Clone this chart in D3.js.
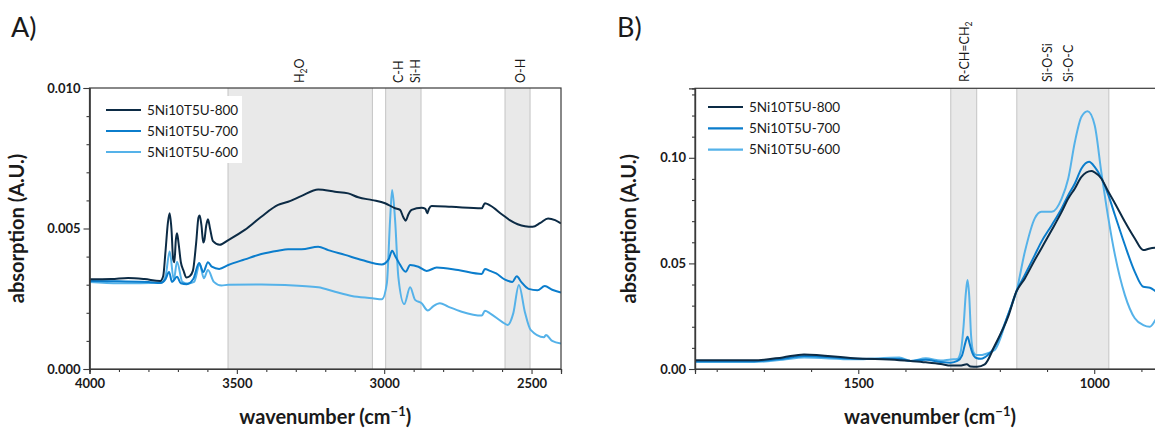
<!DOCTYPE html>
<html><head><meta charset="utf-8">
<script src="https://cdn.jsdelivr.net/npm/d3@7"></script>
<style>
body{margin:0;background:#fff;}
text{font-family:Lato,"Open Sans",sans-serif;fill:#1a1a1a;}
</style></head>
<body><svg id="c" width="1155" height="432"></svg>
<script>
// ---------- DATA ----------
const seriesNames = ["5Ni10T5U-800", "5Ni10T5U-700", "5Ni10T5U-600"];
const seriesColors = ["#0c2b45", "#0b7dcc", "#55b2e9"];

// Panel A (wavenumber, absorption)
const a800 = [[4000,0.00319],[3926,0.0032],[3869,0.00324],[3813,0.0032],[3760,0.00313],[3750,0.0033],[3742,0.0042],[3734,0.0052],[3728,0.00554],[3722,0.005],[3716,0.0039],[3712,0.0038],[3707,0.0046],[3703,0.00483],[3698,0.0045],[3690,0.0038],[3681,0.0035],[3671,0.00326],[3660,0.0033],[3649,0.0035],[3638,0.0045],[3630,0.0054],[3626,0.00546],[3620,0.0051],[3614,0.0045],[3610,0.0046],[3604,0.0051],[3598,0.00533],[3591,0.005],[3581,0.00455],[3558,0.00442],[3529,0.00459],[3473,0.00495],[3417,0.00542],[3360,0.00584],[3326,0.00595],[3280,0.00616],[3224,0.00639],[3167,0.00631],[3122,0.00625],[3088,0.00611],[3040,0.00601],[2997,0.0059],[2963,0.00572],[2946,0.00566],[2935,0.0054],[2927,0.00528],[2918,0.0055],[2907,0.00566],[2873,0.00574],[2860,0.0057],[2854,0.00554],[2848,0.0057],[2839,0.0058],[2771,0.00577],[2669,0.00572],[2658,0.0059],[2641,0.00582],[2600,0.0055],[2574,0.0053],[2522,0.00508],[2496,0.00506],[2470,0.0052],[2444,0.00536],[2420,0.0053],[2400,0.00518]];
const a700 = [[4000,0.00313],[3900,0.00312],[3800,0.0031],[3760,0.00306],[3742,0.0032],[3730,0.00345],[3720,0.0031],[3703,0.00328],[3690,0.00305],[3670,0.00302],[3648,0.0032],[3628,0.00377],[3614,0.00345],[3598,0.0038],[3585,0.00364],[3560,0.00356],[3529,0.0037],[3473,0.0039],[3417,0.00409],[3360,0.00421],[3326,0.00426],[3280,0.00426],[3224,0.00435],[3190,0.00423],[3133,0.00406],[3076,0.00388],[3008,0.00372],[2985,0.0039],[2973,0.00421],[2962,0.004],[2952,0.00382],[2927,0.00346],[2912,0.0037],[2884,0.00364],[2856,0.00349],[2822,0.00361],[2749,0.00352],[2669,0.00338],[2658,0.00356],[2641,0.00349],[2620,0.0034],[2590,0.00318],[2565,0.0031],[2550,0.0033],[2535,0.0031],[2510,0.00285],[2480,0.0028],[2455,0.00295],[2430,0.00282],[2400,0.00272]];
const a600 = [[4000,0.0031],[3900,0.00305],[3756,0.00307],[3742,0.0033],[3728,0.00418],[3714,0.00317],[3703,0.00382],[3685,0.0031],[3666,0.00304],[3645,0.0031],[3626,0.00374],[3612,0.00323],[3598,0.00352],[3578,0.0031],[3552,0.00297],[3529,0.003],[3417,0.00301],[3337,0.00299],[3224,0.00291],[3167,0.00275],[3110,0.0026],[3040,0.00252],[3008,0.00248],[2991,0.00305],[2980,0.0053],[2973,0.00637],[2963,0.0053],[2952,0.00328],[2932,0.00231],[2912,0.00291],[2895,0.00246],[2873,0.00234],[2852,0.00208],[2833,0.00224],[2811,0.00234],[2783,0.00222],[2737,0.00204],[2669,0.0019],[2658,0.00207],[2641,0.00198],[2600,0.00168],[2581,0.00157],[2562,0.00198],[2543,0.00299],[2522,0.002],[2503,0.00139],[2458,0.00113],[2451,0.00121],[2430,0.001],[2400,0.00091]];

// Panel B
const b800 = [[1846,0.0041],[1721,0.0041],[1660,0.0055],[1615,0.0069],[1509,0.0051],[1413,0.0042],[1389,0.0038],[1357,0.0032],[1325,0.0024],[1304,0.0016],[1285,0.0016],[1270,0.0022],[1262,0.0012],[1248,0.0011],[1232,0.0022],[1211,0.011],[1182,0.025],[1165,0.0366],[1147,0.0429],[1126,0.0516],[1112,0.0571],[1090,0.0658],[1069,0.0744],[1055,0.0807],[1041,0.0855],[1027,0.091],[1006,0.0937],[999,0.0931],[985,0.0902],[970,0.0839],[956,0.0784],[935,0.0697],[914,0.0618],[896,0.0563],[882,0.0571],[868,0.0574],[850,0.0576]];
const b700 = [[1846,0.0037],[1721,0.0037],[1660,0.0049],[1615,0.0062],[1509,0.0049],[1413,0.0047],[1389,0.0038],[1357,0.0044],[1325,0.0033],[1304,0.003],[1290,0.0038],[1280,0.0065],[1273,0.0125],[1268.5,0.0153],[1264,0.012],[1258,0.0075],[1250,0.0052],[1240,0.0048],[1232,0.0055],[1211,0.0105],[1182,0.026],[1165,0.0366],[1147,0.0445],[1126,0.0539],[1112,0.0602],[1090,0.0681],[1069,0.076],[1055,0.0823],[1041,0.0878],[1027,0.0949],[1011,0.0981],[999,0.0957],[985,0.0905],[970,0.0823],[956,0.0728],[935,0.0587],[914,0.046],[896,0.0389],[882,0.0385],[868,0.0366],[850,0.035]];
const b600 = [[1846,0.0033],[1721,0.0033],[1660,0.0044],[1615,0.0054],[1509,0.0046],[1413,0.0054],[1389,0.0038],[1357,0.0051],[1325,0.004],[1304,0.0045],[1290,0.0047],[1283,0.008],[1277,0.02],[1272,0.036],[1268.5,0.0421],[1265,0.035],[1261,0.016],[1256,0.008],[1250,0.0066],[1240,0.0066],[1232,0.007],[1211,0.009],[1182,0.026],[1165,0.0366],[1147,0.0555],[1126,0.0713],[1112,0.0744],[1090,0.0744],[1069,0.0807],[1055,0.0902],[1041,0.1075],[1027,0.1194],[1014,0.122],[999,0.1154],[985,0.0933],[970,0.0713],[956,0.0539],[935,0.035],[914,0.024],[896,0.0208],[882,0.02],[868,0.024],[850,0.03]];

const aBands = [[3530,3040],[2995,2875],[2590,2505]];
const aBandLabels = [{t:"H",sub:"2",t2:"O",x:3289},{t:"C-H",x:2951},{t:"Si-H",x:2895},{t:"O-H",x:2539}];
const bBands = [[1304,1249],[1164,969]];
const bBandLabels = [{t:"R-CH=CH",sub:"2",t2:"",x:1274},{t:"Si-O-Si",x:1100},{t:"Si-O-C",x:1055}];

const aXTicks = [4000,3500,3000,2500];
const aYTicks = [0,0.005,0.010];
const bXTicks = [1500,1000];
const bYTicks = [0,0.05,0.10];

// ---------- DRAW ----------
const svg = d3.select("#c");

function panel(cfg){
  const {x0,x1,y0,y1,xdom,ydom,series,bands,labels,xt,yt,xminor,yminor,yfmt,legend,tag,tagX,clipId,labelY} = cfg;
  const x = d3.scaleLinear().domain(xdom).range([x0,x1]);
  const y = d3.scaleLinear().domain(ydom).range([y1,y0]);
  const g = svg.append("g");
  g.append("clipPath").attr("id",clipId).append("rect").attr("x",x0).attr("y",y0).attr("width",x1-x0).attr("height",y1-y0);
  const pg = g.append("g").attr("clip-path",`url(#${clipId})`);
  bands.forEach(b=>{
    pg.append("rect").attr("x",x(b[0])).attr("y",y0).attr("width",x(b[1])-x(b[0])).attr("height",y1-y0)
      .attr("fill","#e9e9e9");
    [b[0],b[1]].forEach(v=>pg.append("line").attr("x1",x(v)).attr("x2",x(v)).attr("y1",y0).attr("y2",y1)
      .attr("stroke","#c4c4c4").attr("stroke-width",1));
  });
  pg.append("rect").attr("x",legend.bx).attr("y",legend.by).attr("width",legend.bw).attr("height",legend.bh).attr("fill","#fff");
  const line = d3.line().x(d=>x(d[0])).y(d=>y(d[1])).curve(d3.curveMonotoneX);
  series.slice().reverse().forEach((s,i)=>{
    const idx = series.length-1-i;
    pg.append("path").datum(s).attr("d",line).attr("fill","none").attr("stroke",seriesColors[idx])
      .attr("stroke-width",2).attr("stroke-linejoin","round");
  });
  g.append("rect").attr("x",x0).attr("y",y0).attr("width",x1-x0).attr("height",y1-y0)
    .attr("fill","none").attr("stroke","#3a3a3a").attr("stroke-width",1.2);
  g.append("g").attr("transform",`translate(0,${y1})`)
    .call(d3.axisBottom(x).tickValues(xt).tickSize(5).tickPadding(5).tickFormat(d3.format("d")));
  g.append("g").attr("transform",`translate(0,${y1})`)
    .call(d3.axisBottom(x).tickValues(xminor).tickSize(3).tickFormat(""));
  g.append("g").attr("transform",`translate(${x0},0)`)
    .call(d3.axisLeft(y).tickValues(yt).tickSize(6).tickPadding(3).tickFormat(d3.format(yfmt)));
  g.append("g").attr("transform",`translate(${x0},0)`)
    .call(d3.axisLeft(y).tickValues(yminor).tickSize(3).tickFormat(""));
  g.selectAll(".domain").attr("stroke","#3a3a3a").attr("stroke-width",1.2);
  g.selectAll(".tick line").attr("stroke","#3a3a3a").attr("stroke-width",1.1);
  g.selectAll(".tick text").attr("font-family","Lato").attr("font-weight","bold").attr("font-size",13).attr("fill","#1a1a1a");
  labels.forEach(l=>{
    const t = g.append("text").attr("transform",`translate(${x(l.x)+4.5},${labelY}) rotate(-90)`)
      .attr("font-size",12.5).attr("text-anchor","start");
    t.append("tspan").text(l.t);
    if(l.sub){
      t.append("tspan").attr("font-size",8.5).attr("dy",3).text(l.sub);
      if(l.t2) t.append("tspan").attr("dy",-3).text(l.t2);
    }
  });
  seriesNames.forEach((n,i)=>{
    const yy = legend.ly + i*legend.dy;
    g.append("line").attr("x1",legend.lx).attr("x2",legend.lx+35).attr("y1",yy).attr("y2",yy)
      .attr("stroke",seriesColors[i]).attr("stroke-width",2.2);
    g.append("text").attr("x",legend.lx+41).attr("y",yy+4.8).attr("font-size",13.5).text(n);
  });
  const xt2 = g.append("text").attr("x",(x0+Math.min(x1,1165))/2).attr("y",424).attr("text-anchor","middle")
    .attr("font-size",20).attr("font-weight","bold");
  xt2.append("tspan").text("wavenumber (cm");
  xt2.append("tspan").attr("font-size",13).attr("dy",-8).text("\u22121");
  xt2.append("tspan").attr("dy",8).text(")");
  g.append("text").attr("transform",`translate(${cfg.ytx},${(y0+y1)/2}) rotate(-90)`).attr("text-anchor","middle")
    .attr("font-size",20).attr("font-weight","bold").text("absorption (A.U.)");
  g.append("text").attr("x",tagX).attr("y",37).attr("font-size",27).text(tag);
}

panel({x0:89.5,x1:561,y0:88,y1:369,xdom:[4000,2400],ydom:[0,0.010],series:[a800,a700,a600],
  bands:aBands,labels:aBandLabels,xt:aXTicks,yt:aYTicks,
  xminor:d3.range(3900,2400,-100).filter(v=>v%500!==0),yminor:[0.001,0.002,0.003,0.004,0.006,0.007,0.008,0.009],
  yfmt:".3f",legend:{bx:97,by:96,bw:145,bh:67,lx:106,ly:110,dy:21},tag:"A)",tagX:11,clipId:"ca",labelY:83,ytx:24});

panel({x0:695,x1:1165,y0:88.3,y1:369,xdom:[1846,850],ydom:[0,0.1329],series:[b800,b700,b600],
  bands:bBands,labels:bBandLabels,xt:bXTicks,yt:bYTicks,
  xminor:[1800,1700,1600,1400,1300,1200,1100,900],yminor:[0.01,0.02,0.03,0.04,0.06,0.07,0.08,0.09,0.11,0.12,0.13],
  yfmt:".2f",legend:{bx:700,by:93,bw:150,bh:66,lx:708,ly:107,dy:21.3},tag:"B)",tagX:617,clipId:"cb",labelY:82,ytx:636});
</script></body></html>
